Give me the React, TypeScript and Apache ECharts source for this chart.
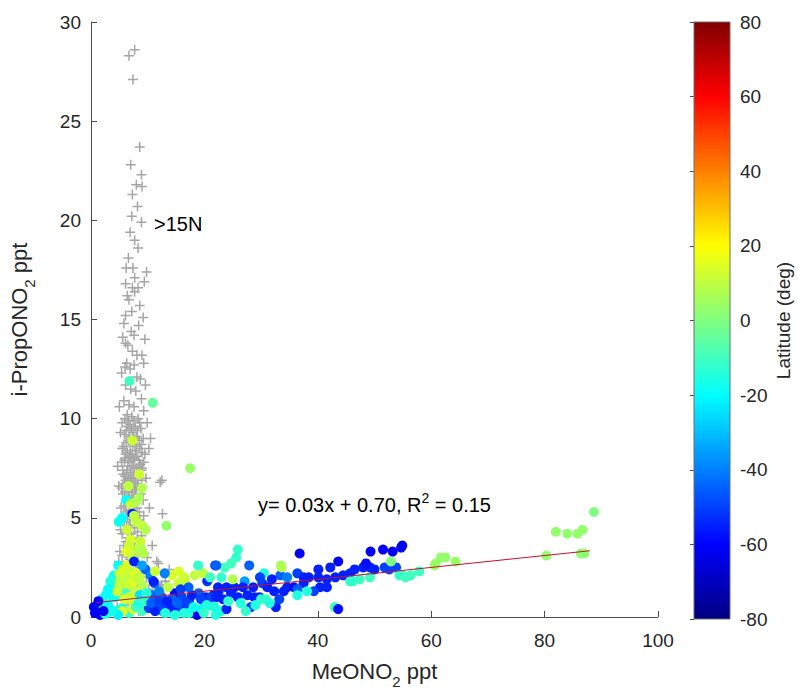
import React, { useEffect, useRef } from "react";
import * as echarts from "echarts";

// ---- Data ----
// Samples north of 15N: [MeONO2 ppt, i-PropONO2 ppt]
const northPoints: number[][] = [
  [7.7, 28.6], [6.7, 28.3], [7.4, 27.1], [8.6, 23.7], [8.9, 22.3], [8.0, 21.8], [9.0, 21.7], [7.3, 21.3],
  [7.2, 20.2], [8.9, 19.9], [7.7, 19.0], [6.6, 18.1], [6.2, 17.6], [7.4, 17.6], [7.7, 17.1], [9.4, 16.9],
  [7.3, 16.6], [8.3, 16.6], [7.7, 16.4], [6.4, 16.2], [6.7, 16.0], [8.6, 15.7], [7.2, 15.4], [6.1, 15.2],
  [5.8, 14.8], [7.1, 14.4], [7.6, 14.2], [6.1, 13.8], [6.5, 13.7], [7.3, 13.4], [8.1, 13.2], [9.0, 13.2],
  [6.3, 12.8], [7.6, 12.7], [6.9, 12.5], [8.1, 12.1], [8.7, 12.0], [6.1, 11.7], [7.0, 11.5], [7.9, 11.4],
  [5.8, 10.9], [6.7, 10.7], [7.6, 10.6], [9.3, 10.4], [6.4, 10.2], [7.2, 10.1], [8.3, 10.0], [5.5, 9.8],
  [6.9, 9.7], [7.8, 9.6], [8.8, 9.5], [6.2, 9.4], [7.4, 9.3], [5.2, 9.3], [8.1, 9.1], [9.2, 9.0],
  [10.5, 9.0], [6.6, 8.9], [7.0, 8.8], [7.9, 8.7], [5.8, 8.6], [8.6, 8.5], [10.2, 8.5], [6.4, 8.3],
  [7.3, 8.2], [9.5, 8.2], [6.0, 8.0], [7.7, 8.0], [8.4, 7.9], [5.4, 7.8], [6.8, 7.8], [9.3, 7.8],
  [7.2, 7.6], [8.0, 7.5], [6.3, 7.4], [8.9, 7.4], [5.7, 7.2], [7.5, 7.2], [6.6, 7.0], [8.3, 7.0],
  [9.7, 7.0], [7.0, 6.9], [12.5, 6.9], [12.2, 6.8], [5.9, 6.7], [7.9, 6.7], [4.9, 6.6], [6.4, 6.5],
  [8.7, 6.5], [7.3, 6.3], [5.6, 6.2], [6.8, 6.1], [8.1, 6.0], [9.2, 5.9], [6.1, 5.8], [7.6, 5.7],
  [5.3, 5.5], [7.0, 5.4], [8.5, 5.3], [12.6, 5.2], [6.4, 5.1], [7.8, 5.0], [5.9, 4.8], [9.0, 4.7],
  [6.9, 4.5], [8.2, 4.3], [5.5, 4.2], [7.4, 4.0], [6.2, 3.8], [10.8, 3.6], [8.6, 3.6], [7.0, 3.4],
  [5.1, 3.3], [9.4, 3.2], [5.5, 3.1], [6.6, 3.0], [4.9, 2.8], [11.6, 2.8], [8.0, 2.7], [11.9, 2.7],
  [13.8, 2.4], [6.0, 2.4], [7.5, 2.2], [9.8, 2.0], [4.4, 1.9], [13.1, 1.8], [12.5, 1.6], [13.2, 1.6],
  [12.3, 1.5], [6.8, 1.4], [8.9, 1.2], [5.2, 1.1], [11.0, 1.0], [7.2, 0.7], [4.6, 0.5], [9.6, 0.4],
  [6.0, 10.0], [7.5, 9.9], [8.6, 9.8], [6.5, 9.6], [7.1, 9.5], [8.2, 9.4], [5.9, 9.2], [6.8, 9.1],
  [7.7, 9.0], [8.5, 8.9], [6.2, 8.8], [7.4, 8.7], [8.9, 8.7], [5.5, 8.5], [6.9, 8.4], [7.8, 8.4],
  [9.0, 8.3], [6.1, 8.2], [7.0, 8.1], [8.1, 8.1], [5.9, 7.9], [7.4, 7.9], [8.7, 7.7], [6.5, 7.6],
  [7.6, 7.5], [9.0, 7.5], [5.6, 7.4], [7.0, 7.3], [8.2, 7.3], [6.0, 7.1], [7.8, 7.0], [8.9, 6.9],
  [6.3, 6.8], [7.4, 6.8], [8.3, 6.6], [5.4, 6.5], [7.1, 6.5], [6.0, 6.3], [7.9, 6.2], [8.8, 6.2],
  [6.6, 6.0], [7.3, 5.9], [5.8, 5.6], [8.1, 5.5], [6.7, 5.4], [7.4, 5.2], [9.3, 5.1], [5.6, 5.0],
  [6.9, 4.9], [8.6, 4.8], [6.3, 4.6], [7.7, 4.5], [5.2, 4.4], [7.1, 4.2], [8.9, 4.1], [6.5, 4.0],
  [5.8, 3.6], [7.7, 3.7], [6.4, 3.5], [8.3, 3.2], [6.9, 2.9], [5.7, 2.6], [8.6, 2.5], [7.0, 2.1],
  [6.2, 1.8], [8.1, 1.6], [7.6, 1.0], [6.0, 0.6], [8.4, 0.3], [10.2, 1.4], [9.9, 3.0], [10.3, 5.5],
  [4.7, 7.6], [9.9, 9.8], [5.0, 10.6], [8.9, 11.0], [9.6, 11.7], [5.4, 12.3], [9.3, 12.8], [5.6, 14.1],
  [8.4, 14.7], [9.2, 15.1], [8.3, 18.6], [6.9, 19.4], [9.8, 17.4], [8.2, 20.7], [7.0, 22.8], [6.1, 16.8],
  [9.5, 14.0], [6.0, 12.6], [6.6, 9.9], [7.3, 9.0], [8.0, 8.6], [6.7, 8.0], [7.2, 7.0], [8.5, 7.6],
  [6.1, 6.9], [7.7, 6.4], [6.9, 5.8], [8.3, 5.9], [6.2, 5.3], [7.9, 4.9], [6.7, 4.6], [7.3, 3.9],
];

// Other samples: [MeONO2 ppt, i-PropONO2 ppt, latitude deg]
const latPoints: number[][] = [
  [6.8, 11.9, -10], [10.9, 10.8, -4], [7.3, 8.9, 12], [17.5, 7.5, 4], [9.0, 6.5, 8], [6.2, 5.9, -20],
  [8.4, 6.0, 6], [7.0, 5.7, 12], [7.3, 5.2, -55], [7.6, 5.1, 10], [4.9, 4.8, -18], [9.0, 4.6, 12],
  [9.6, 4.4, 8], [13.3, 4.6, 3], [7.0, 3.9, 14], [6.7, 3.6, 12], [6.3, 3.3, 15], [8.1, 3.4, 10],
  [8.7, 3.8, 12], [9.2, 3.2, 8], [6.2, 2.6, 14], [7.4, 3.0, 10], [7.6, 2.8, -55], [8.9, 3.4, 8],
  [4.1, 2.1, -20], [3.9, 2.0, -18], [9.6, 2.4, -45], [10.5, 2.1, -40], [11.2, 1.7, -45], [9.0, 2.6, -35],
  [11.3, 2.3, 12], [14.3, 2.1, 14], [15.4, 1.7, 12], [16.6, 1.8, 12], [18.3, 2.1, 10], [15.5, 2.3, 14],
  [16.4, 2.0, 12], [14.8, 1.2, -58], [13.6, 1.5, 10], [20.5, 1.8, -50], [19.0, 1.2, -45], [21.9, 2.6, -50],
  [10.3, 1.1, -50], [13.8, 0.6, -55], [18.7, 0.1, -62],
  [5.0, 2.2, 12], [5.8, 1.9, 14], [6.6, 2.0, 10], [7.3, 1.7, 15], [8.2, 1.9, 12], [4.5, 1.6, 8],
  [5.4, 1.2, 12], [6.2, 1.5, 12], [7.9, 1.3, 10], [9.1, 1.6, 8], [3.6, 1.4, -20], [4.2, 1.0, -15],
  [6.0, 1.2, -10], [8.6, 1.1, -25], [7.4, 0.8, 12],
  [0.7, 0.2, -62], [1.6, 0.1, -60], [1.2, 0.5, -65], [0.9, 0.2, -60], [1.7, 0.3, -62], [2.1, 0.6, -20],
  [3.0, 0.6, -18], [3.9, 1.0, -18], [3.2, 0.45, -20], [4.4, 0.3, -15], [5.5, 0.45, -18], [6.7, 0.2, -12],
  [5.6, 0.3, 15], [7.4, 0.4, 15], [9.1, 0.4, -12], [7.9, 0.5, -10], [9.0, 0.3, -10], [2.5, 0.15, -15],
  [4.8, 0.1, -22],
  [11.5, 0.5, -40], [12.6, 0.3, -38], [14.7, 0.5, -40], [16.7, 0.6, -50], [17.3, 0.8, -50], [20.2, 1.0, -55],
  [21.6, 1.1, -55], [10.2, 0.45, -50], [11.3, 0.3, -55], [12.5, 0.55, -50], [14.3, 0.4, -55], [16.0, 0.45, -50],
  [13.1, 0.2, -15], [14.8, 0.1, -15], [17.2, 0.2, -15], [19.5, 0.4, -20], [21.2, 0.55, -12], [23.0, 0.3, -15],
  [10.8, 1.1, -45], [12.5, 1.0, -45], [14.3, 0.9, -45], [16.0, 1.0, -50], [17.8, 1.1, -55], [19.4, 0.9, -50],
  [21.2, 1.0, -50], [22.5, 1.3, -55],
  [25.9, 3.4, -12], [25.6, 3.0, -12], [24.7, 2.7, -10], [23.6, 2.5, -10], [22.1, 2.6, -45], [27.9, 2.6, -45],
  [30.5, 2.2, -15], [33.5, 2.6, 5], [36.8, 3.2, -62], [40.1, 2.4, -55], [42.2, 2.5, -55], [43.6, 2.8, -60],
  [20.6, 1.9, -55], [22.4, 1.5, -55], [23.9, 1.5, -55], [25.3, 1.5, -55], [27.1, 1.8, -35], [25.0, 1.9, 8],
  [33.4, 2.1, -45], [30.2, 1.7, -50], [31.1, 1.5, -55], [32.3, 1.3, -55], [34.0, 1.3, -55], [36.4, 2.2, -50],
  [37.5, 2.0, -55], [38.4, 2.0, -55], [34.6, 2.0, -40], [40.1, 2.0, -55], [41.6, 1.9, -55], [43.1, 2.0, -55],
  [44.5, 2.1, -55], [45.7, 2.2, -55], [34.6, 1.5, -55], [35.8, 1.5, -58], [37.5, 1.7, -55], [40.4, 1.5, -55],
  [41.6, 1.5, -55], [45.7, 1.8, -12], [47.4, 1.9, -10], [49.2, 2.0, -10], [32.6, 0.5, -55], [28.2, 0.5, -50],
  [23.9, 0.4, -55], [43.0, 0.5, -10], [43.6, 0.4, -58], [22.1, 1.0, -55], [23.3, 0.9, -55], [20.4, 0.6, -15],
  [21.8, 0.5, -15], [24.7, 1.2, -55], [25.9, 1.0, -55], [27.6, 1.1, -55], [28.8, 1.0, -55], [29.7, 1.0, -55],
  [30.0, 0.9, -12], [30.8, 0.9, -12], [36.4, 1.4, -45], [39.3, 1.3, -50], [36.4, 1.1, -15], [38.1, 1.3, -15],
  [46.2, 1.8, -12], [33.6, 2.5, 8],
  [49.3, 3.3, -62], [51.5, 3.4, -60], [53.2, 3.3, -62], [54.9, 3.6, -62], [54.7, 3.5, -62], [46.5, 2.4, -55],
  [48.0, 2.5, -55], [49.2, 2.5, -55], [50.0, 2.4, -55], [51.8, 2.5, -50], [53.8, 2.5, -50], [52.6, 2.4, -50],
  [48.5, 2.7, -58], [55.0, 2.1, -10], [56.4, 2.1, -10], [57.9, 2.3, -10], [54.4, 2.1, -12], [55.5, 2.0, -10],
  [52.9, 2.8, 0], [60.8, 2.7, 3], [61.7, 3.0, 3], [62.5, 3.0, 3], [64.3, 2.8, 4], [60.6, 2.6, 4],
  [80.3, 3.1, 3], [86.4, 3.2, 2], [87.0, 3.2, 2], [82.0, 4.3, 3], [84.0, 4.2, 3], [85.8, 4.2, 3],
  [86.7, 4.4, 3], [88.7, 5.3, 0],
  [2.6, 1.1, -20], [1.9, 0.9, -18], [3.4, 1.8, -15], [4.8, 2.6, -20], [5.6, 2.4, 14], [5.1, 1.8, 10],
  [6.9, 2.3, 12], [7.9, 2.2, 14], [8.6, 2.0, 10], [4.6, 1.3, 12], [5.9, 0.9, 14], [6.8, 1.0, 12],
  [3.7, 0.3, -18], [2.9, 0.2, -16], [8.4, 0.7, -15], [9.5, 0.8, -12], [10.6, 0.7, -45], [11.9, 0.8, -50],
  [13.4, 0.8, -55], [15.2, 0.7, -45], [16.4, 0.2, -15], [18.1, 0.5, -18], [19.9, 0.2, -12], [22.0, 0.1, -15],
  [24.2, 0.8, -12], [26.4, 0.7, -15], [27.3, 0.3, -12], [29.0, 0.6, -15], [31.5, 0.7, -15], [33.2, 0.9, -50],
  [26.8, 1.5, -55], [28.6, 1.5, -55], [29.8, 2.0, -50], [31.9, 1.9, -55], [19.8, 2.2, 10], [17.2, 1.5, -45],
  [15.8, 1.4, -50], [12.0, 1.3, -40], [11.0, 1.8, -55], [13.0, 2.2, -40], [1.3, 0.8, -60], [0.5, 0.5, -62],
  [2.2, 0.3, -62], [3.0, 1.4, -20], [9.8, 1.2, -15], [21.0, 2.0, -10], [18.9, 2.6, -12], [23.0, 2.0, -12],
  [6.4, 4.4, 12], [8.0, 4.8, 10], [7.9, 5.8, 8], [6.6, 6.6, 10], [5.5, 5.0, -20], [8.5, 7.2, 12],
];

// Linear fit
const fitSlope = 0.03;
const fitIntercept = 0.7;
const fitXRange = [1, 88];

// Axes
const xRange = [0, 100, 20];
const yRange = [0, 30, 5];
const latRange = [-80, 80, 20];
const colorbarExtent = [[0, -80, 1, 80]];

// Jet colormap (evenly spaced stops)
const jetColors = [
  "#000080", "#0000ff", "#0080ff", "#00ffff", "#80ff80", "#ffff00", "#ff8000", "#ff0000", "#800000",
];

const FONT = '"Liberation Sans", Arial, Helvetica, sans-serif';
const AXIS_COLOR = "#4d4d4d";
const TEXT_COLOR = "#262626";

export default function App() {
  const ref = useRef<HTMLDivElement>(null);

  useEffect(() => {
    if (!ref.current) return;
    const chart = echarts.init(ref.current, null, { renderer: "svg" });

    const fitLine = fitXRange.map((x) => [x, fitSlope * x + fitIntercept]);
    const stops = jetColors.map((c, i) => ({ offset: i / (jetColors.length - 1), color: c }));

    const option: any = {
      animation: false,
      backgroundColor: "#ffffff",
      textStyle: { fontFamily: FONT },
      grid: [
        { left: 85, right: 140, top: 22, bottom: 75, containLabel: false },
        { left: 694, width: 36, top: 22, bottom: 75, containLabel: false },
      ],
      xAxis: [
        {
          type: "value",
          gridIndex: 0,
          min: xRange[0],
          max: xRange[1],
          interval: xRange[2],
          name: "{a|MeONO}{s|2}{a| ppt}",
          nameLocation: "middle",
          nameGap: 36,
          nameTextStyle: {
            rich: {
              a: { fontSize: 22, fontFamily: FONT, color: TEXT_COLOR },
              s: { fontSize: 15, fontFamily: FONT, color: TEXT_COLOR, padding: [21, 0, 0, 0] },
            },
          },
          axisLine: { show: true, lineStyle: { color: AXIS_COLOR, width: 1 } },
          axisTick: { show: true, inside: true, length: 6, lineStyle: { color: AXIS_COLOR } },
          axisLabel: { fontSize: 19, color: TEXT_COLOR, fontFamily: FONT, margin: 14 },
          splitLine: { show: false },
        },
        { type: "value", gridIndex: 1, min: 0, max: 1, show: false },
      ],
      yAxis: [
        {
          type: "value",
          gridIndex: 0,
          min: yRange[0],
          max: yRange[1],
          interval: yRange[2],
          name: "{a|i-PropONO}{s|2}{a| ppt}",
          nameLocation: "middle",
          nameRotate: 90,
          nameGap: 54,
          nameTextStyle: {
            rich: {
              a: { fontSize: 22, fontFamily: FONT, color: TEXT_COLOR },
              s: { fontSize: 15, fontFamily: FONT, color: TEXT_COLOR, padding: [21, 0, 0, 0] },
            },
          },
          axisLine: { show: true, lineStyle: { color: AXIS_COLOR, width: 1 } },
          axisTick: { show: true, inside: true, length: 6, lineStyle: { color: AXIS_COLOR } },
          axisLabel: { fontSize: 19, color: TEXT_COLOR, fontFamily: FONT, margin: 10 },
          splitLine: { show: false },
        },
        {
          type: "value",
          gridIndex: 1,
          position: "right",
          min: latRange[0],
          max: latRange[1],
          interval: latRange[2],
          name: "Latitude (deg)",
          nameLocation: "middle",
          nameRotate: 90,
          nameGap: 44,
          nameTextStyle: { fontSize: 19, fontFamily: FONT, color: TEXT_COLOR },
          axisLine: { show: false },
          axisTick: { show: true, inside: true, length: 4, lineStyle: { color: AXIS_COLOR } },
          axisLabel: { fontSize: 19, color: TEXT_COLOR, fontFamily: FONT, margin: 10 },
          splitLine: { show: false },
        },
      ],
      visualMap: {
        type: "continuous",
        show: false,
        min: latRange[0],
        max: latRange[1],
        dimension: 2,
        seriesIndex: 1,
        inRange: { color: jetColors },
      },
      graphic: [
        {
          type: "text",
          z: 10,
          style: {
            text: ">15N",
            x: 154,
            y: 224,
            verticalAlign: "middle",
            fontSize: 20,
            fontFamily: FONT,
            fill: "#000",
          },
        },
        {
          type: "text",
          z: 10,
          style: {
            text: "{n|y= 0.03x + 0.70, R}{sup|2}{n| = 0.15}",
            x: 258,
            y: 505,
            verticalAlign: "middle",
            rich: {
              n: { fontSize: 20, fontFamily: FONT, fill: "#000", color: "#000" },
              sup: { fontSize: 14, fontFamily: FONT, fill: "#000", color: "#000", padding: [0, 0, 14, 0] },
            },
          },
        },
      ],
      series: [
        {
          type: "scatter",
          xAxisIndex: 0,
          yAxisIndex: 0,
          data: northPoints,
          symbol: "path://M4.25,0H5.75V4.25H10V5.75H5.75V10H4.25V5.75H0V4.25H4.25Z",
          symbolSize: 10,
          itemStyle: { color: "#a6a6a6", opacity: 1 },
          z: 1,
          silent: true,
        },
        {
          type: "scatter",
          xAxisIndex: 0,
          yAxisIndex: 0,
          data: latPoints,
          symbol: "circle",
          symbolSize: 10,
          itemStyle: { opacity: 1 },
          z: 2,
          silent: true,
        },
        {
          type: "line",
          xAxisIndex: 0,
          yAxisIndex: 0,
          data: fitLine,
          showSymbol: false,
          symbol: "none",
          lineStyle: { color: "#c8102e", width: 1 },
          z: 3,
          silent: true,
        },
        {
          type: "custom",
          xAxisIndex: 1,
          yAxisIndex: 1,
          data: colorbarExtent,
          encode: { x: [0, 2], y: [1, 3] },
          silent: true,
          renderItem: (params: any, api: any) => {
            const p0 = api.coord([api.value(0), api.value(1)]);
            const p1 = api.coord([api.value(2), api.value(3)]);
            return {
              type: "rect",
              shape: { x: p0[0], y: p1[1], width: p1[0] - p0[0], height: p0[1] - p1[1] },
              style: {
                fill: new echarts.graphic.LinearGradient(0, 1, 0, 0, stops),
                stroke: "#6e6e6e",
                lineWidth: 1,
              },
            };
          },
        },
      ],
    };

    chart.setOption(option);
    return () => chart.dispose();
  }, []);

  return (
    <div
      ref={ref}
      style={{ position: "fixed", left: 0, top: 0, width: 798, height: 694, background: "#fff" }}
    />
  );
}
